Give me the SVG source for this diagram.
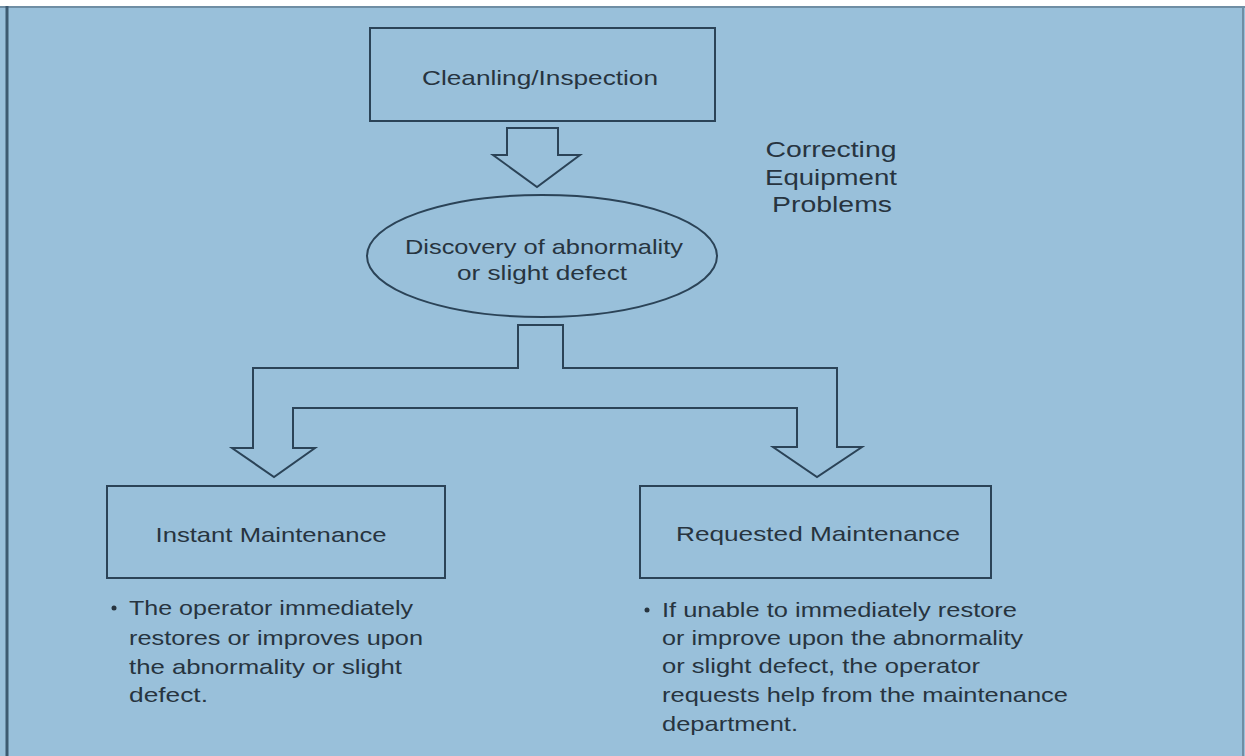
<svg xmlns="http://www.w3.org/2000/svg" width="1245" height="756" viewBox="0 0 1245 756">
  <style>
    .shape { fill: none; stroke: #2b4357; stroke-width: 2; stroke-linejoin: miter; }
    .lbl { font-family: "Liberation Sans", Arial, sans-serif; font-size: 21px; fill: #27343f; }
    .ttl { font-size: 22px; }
    .mid { text-anchor: middle; }
  </style>
  <rect x="0" y="0" width="1245" height="756" fill="#99c0da"/>
  <rect x="0" y="0" width="1245" height="6" fill="#ffffff"/>
  <line x1="0" y1="7" x2="1245" y2="7" stroke="#6f8ea4" stroke-width="2"/>
  <line x1="7" y1="6" x2="7" y2="756" stroke="#3d5a70" stroke-width="3"/>
  <line x1="1243" y1="6" x2="1243" y2="756" stroke="#6f8ea4" stroke-width="2"/>

  <g id="connectors">
    <path class="shape" d="M507,128 L558,128 L558,155 L580,155 L537,187 L493,155 L507,155 Z"/>
    <path class="shape" d="M518,325 L563,325 L563,368 L837,368 L837,447 L862,447 L817,477 L773,447 L797,447 L797,408 L293,408 L293,448 L315,448 L274,477 L232,448 L253,448 L253,368 L518,368 Z"/>
  </g>

  <g id="cleaning">
    <rect class="shape" x="370" y="28" width="345" height="93"/>
    <text class="lbl mid" x="540" y="85" textLength="236" lengthAdjust="spacingAndGlyphs">Cleanling/Inspection</text>
  </g>

  <g id="title">
    <text class="lbl ttl mid" x="831" y="157" textLength="131" lengthAdjust="spacingAndGlyphs">Correcting</text>
    <text class="lbl ttl mid" x="831" y="185" textLength="132" lengthAdjust="spacingAndGlyphs">Equipment</text>
    <text class="lbl ttl mid" x="832" y="212" textLength="120" lengthAdjust="spacingAndGlyphs">Problems</text>
  </g>

  <g id="discovery">
    <ellipse class="shape" cx="542" cy="256" rx="175" ry="61"/>
    <text class="lbl mid" x="544" y="254" textLength="278" lengthAdjust="spacingAndGlyphs">Discovery of abnormality</text>
    <text class="lbl mid" x="542" y="280" textLength="170" lengthAdjust="spacingAndGlyphs">or slight defect</text>
  </g>

  <g id="instant">
    <rect class="shape" x="107" y="486" width="338" height="92"/>
    <text class="lbl mid" x="271" y="542" textLength="231" lengthAdjust="spacingAndGlyphs">Instant Maintenance</text>
    <circle cx="114" cy="608" r="2.5" fill="#27343f"/>
    <text class="lbl" x="129" y="615" textLength="284" lengthAdjust="spacingAndGlyphs">The operator immediately</text>
    <text class="lbl" x="129" y="645" textLength="294" lengthAdjust="spacingAndGlyphs">restores or improves upon</text>
    <text class="lbl" x="129" y="674" textLength="273" lengthAdjust="spacingAndGlyphs">the abnormality or slight</text>
    <text class="lbl" x="129" y="702" textLength="79" lengthAdjust="spacingAndGlyphs">defect.</text>
  </g>

  <g id="requested">
    <rect class="shape" x="640" y="486" width="351" height="92"/>
    <text class="lbl mid" x="818" y="541" textLength="284" lengthAdjust="spacingAndGlyphs">Requested Maintenance</text>
    <circle cx="647" cy="610" r="2.5" fill="#27343f"/>
    <text class="lbl" x="662" y="617" textLength="355" lengthAdjust="spacingAndGlyphs">If unable to immediately restore</text>
    <text class="lbl" x="662" y="645" textLength="361" lengthAdjust="spacingAndGlyphs">or improve upon the abnormality</text>
    <text class="lbl" x="662" y="673" textLength="318" lengthAdjust="spacingAndGlyphs">or slight defect, the operator</text>
    <text class="lbl" x="662" y="702" textLength="406" lengthAdjust="spacingAndGlyphs">requests help from the maintenance</text>
    <text class="lbl" x="662" y="731" textLength="136" lengthAdjust="spacingAndGlyphs">department.</text>
  </g>
</svg>
